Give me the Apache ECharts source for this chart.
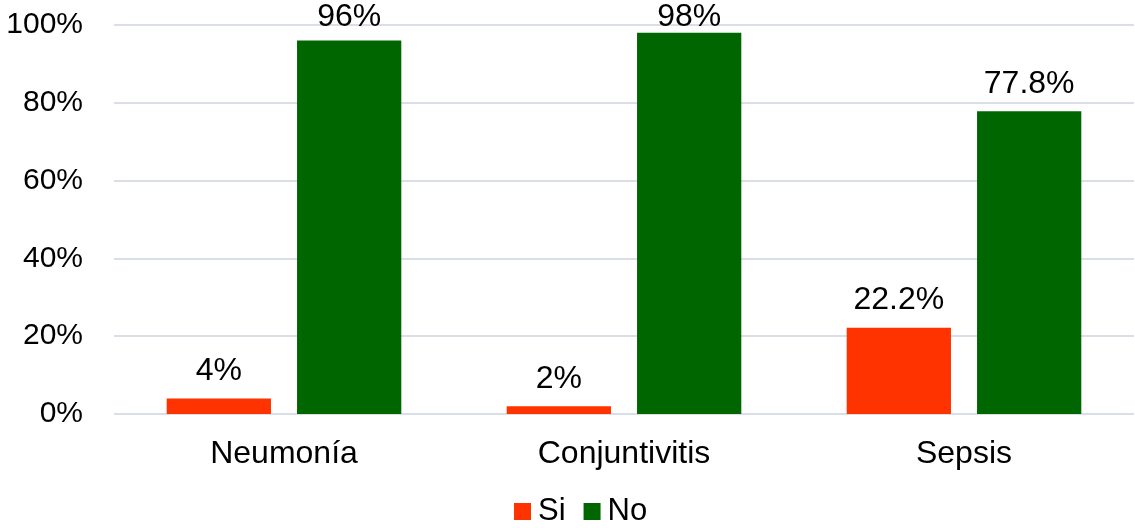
<!DOCTYPE html>
<html>
<head>
<meta charset="utf-8">
<script src="https://cdn.jsdelivr.net/npm/echarts@6/dist/echarts.min.js"></script>
<style>
  html, body { margin: 0; padding: 0; background: #fff; }
  #chart { width: 1135px; height: 528px; }
</style>
</head>
<body>
<div id="chart"></div>
<script>
// Infection outcomes by diagnosis (percent of cases)
const categories = ['Neumonía', 'Conjuntivitis', 'Sepsis'];
const siValues = [4, 2, 22.2];
const noValues = [96, 98, 77.8];
const siLabels = ['4%', '2%', '22.2%'];
const noLabels = ['96%', '98%', '77.8%'];
const yTicks = [0, 20, 40, 60, 80, 100];

const FONT = '"Liberation Sans", Arial, sans-serif';
const LABEL_SIZE = 32;
const LABEL_GAP = 11;
const chart = echarts.init(document.getElementById('chart'), null, { renderer: 'canvas' });

function labelFor(texts) {
  return {
    show: true,
    position: 'top',
    distance: LABEL_GAP,
    color: '#000',
    fontFamily: FONT,
    fontSize: LABEL_SIZE,
    formatter: p => texts[p.dataIndex]
  };
}

chart.setOption({
  animation: false,
  textStyle: { fontFamily: FONT },
  grid: { left: 114, right: 1, top: 25, bottom: 114, containLabel: false },
  legend: {
    top: 496,
    left: 514,
    padding: 0,
    itemWidth: 17,
    itemHeight: 17,
    itemGap: 18,
    icon: 'rect',
    textStyle: { fontFamily: FONT, fontSize: 31, color: '#000', padding: [0, 0, 0, 2] },
    data: ['Si', 'No']
  },
  xAxis: {
    type: 'category',
    data: categories,
    axisLine: { show: false },
    axisTick: { show: false },
    axisLabel: { color: '#000', fontFamily: FONT, fontSize: 32, margin: 24 }
  },
  yAxis: {
    type: 'value',
    min: yTicks[0],
    max: yTicks[yTicks.length - 1],
    interval: 20,
    axisLine: { show: false },
    axisTick: { show: false },
    splitLine: { lineStyle: { color: '#dadee6', width: 2 } },
    axisLabel: {
      color: '#000', fontFamily: FONT, fontSize: 30, margin: 31,
      formatter: v => v + '%'
    }
  },
  series: [
    {
      name: 'Si', type: 'bar', data: siValues,
      itemStyle: { color: '#ff3300' },
      barGap: '25%', barCategoryGap: '31%',
      label: labelFor(siLabels)
    },
    {
      name: 'No', type: 'bar', data: noValues,
      itemStyle: { color: '#006600' },
      barGap: '25%', barCategoryGap: '31%',
      label: labelFor(noLabels)
    }
  ]
});

// Keep value labels inside the canvas: labels of tall bars are pulled down
// so their box never rises above the top edge.
function clampedData(values) {
  return values.map((v, i) => {
    const top = chart.convertToPixel({ gridIndex: 0 }, [i, v])[1];
    const room = top - LABEL_SIZE - 1;
    return { value: v, label: { distance: Math.max(0, Math.min(LABEL_GAP, room)) } };
  });
}
chart.setOption({
  series: [{ data: clampedData(siValues) }, { data: clampedData(noValues) }]
});
</script>
</body>
</html>
